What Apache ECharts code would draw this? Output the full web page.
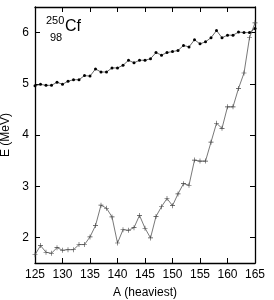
<!DOCTYPE html>
<html>
<head>
<meta charset="utf-8">
<script src="https://cdn.jsdelivr.net/npm/echarts@6/dist/echarts.min.js"></script>
<style>html,body{margin:0;padding:0;background:#fff}#c{width:274px;height:300px}</style>
</head>
<body>
<div id="c"></div>
<script>
var massNumbers = [125,126,127,128,129,130,131,132,133,134,135,136,137,138,139,140,141,142,143,144,145,146,147,148,149,150,151,152,153,154,155,156,157,158,159,160,161,162,163,164,165];
var upperSeries = [4.96,4.99,4.97,4.97,5.03,4.99,5.05,5.08,5.08,5.16,5.15,5.29,5.23,5.23,5.31,5.31,5.36,5.46,5.41,5.46,5.46,5.49,5.61,5.56,5.61,5.63,5.65,5.75,5.72,5.86,5.78,5.82,5.90,6.04,5.90,5.95,5.95,6.01,6.00,6.00,6.08];
var lowerSeries = [1.66,1.84,1.71,1.69,1.80,1.75,1.76,1.76,1.86,1.86,2.01,2.23,2.63,2.57,2.40,1.89,2.15,2.14,2.19,2.43,2.18,1.99,2.41,2.60,2.76,2.62,2.85,3.05,3.02,3.51,3.49,3.49,3.86,4.23,4.13,4.55,4.55,4.91,5.21,5.90,6.19];
var xTicks = [125,130,135,140,145,150,155,160,165];
var yTicks = [2,3,4,5,6];

function pairs(v){ return massNumbers.map(function(a,i){ return [a, v[i]]; }); }
var font = 'Liberation Sans, Arial, sans-serif';
var plus = 'path://M4.4,0H5.6V4.4H10V5.6H5.6V10H4.4V5.6H0V4.4H4.4Z';

var chart = echarts.init(document.getElementById('c'), null, {renderer:'canvas'});
var axisLine = {show:true, lineStyle:{color:'#000', width:1.3}};
chart.setOption({
  animation:false,
  grid:{left:35, right:19, top:7, bottom:37, containLabel:false, outerBoundsMode:'none'},
  xAxis:[{
    type:'value', min:125, max:165, interval:5, position:'bottom',
    name:'A (heaviest)', nameLocation:'middle', nameGap:24,
    nameTextStyle:{fontFamily:font, fontSize:12, color:'#000'},
    axisLine:axisLine, splitLine:{show:false},
    axisTick:{show:true, inside:true, length:5, lineStyle:{color:'#000', width:1}},
    axisLabel:{fontFamily:font, fontSize:12, color:'#000', margin:6}
  },{
    type:'value', min:125, max:165, interval:5, position:'top',
    axisLine:axisLine, splitLine:{show:false},
    axisTick:{show:true, inside:true, length:5, lineStyle:{color:'#000', width:1}},
    axisLabel:{show:false}
  }],
  yAxis:[{
    type:'value', min:1.5, max:6.5, position:'left',
    name:'E (MeV)', nameLocation:'middle', nameGap:20, nameRotate:90,
    nameTextStyle:{fontFamily:font, fontSize:12, color:'#000'},
    axisLine:axisLine, splitLine:{show:false},
    axisTick:{show:true, inside:true, length:5, customValues:yTicks, lineStyle:{color:'#000', width:1}},
    axisLabel:{fontFamily:font, fontSize:12, color:'#000', margin:6, customValues:yTicks}
  },{
    type:'value', min:1.5, max:6.5, position:'right',
    axisLine:axisLine, splitLine:{show:false},
    axisTick:{show:true, inside:true, length:5, customValues:yTicks, lineStyle:{color:'#000', width:1}},
    axisLabel:{show:false, customValues:yTicks}
  }],
  series:[{
    type:'line', data:pairs(lowerSeries), xAxisIndex:0, yAxisIndex:0,
    symbol:plus, symbolSize:5, showSymbol:true,
    lineStyle:{color:'#555', width:0.8},
    itemStyle:{color:'#444'}
  },{
    type:'line', data:pairs(upperSeries), xAxisIndex:0, yAxisIndex:0,
    symbol:'circle', symbolSize:3, showSymbol:true,
    lineStyle:{color:'#444', width:0.8},
    itemStyle:{color:'#000'}
  }],
  graphic:[
    {type:'text', left:46, top:15, style:{text:'250', font:'11px Liberation Sans', fill:'#000'}},
    {type:'text', left:65, top:19, style:{text:'Cf', font:'16px Liberation Sans', fill:'#000'}},
    {type:'text', left:50, top:32, style:{text:'98', font:'11px Liberation Sans', fill:'#000'}}
  ]
});
</script>
</body>
</html>
